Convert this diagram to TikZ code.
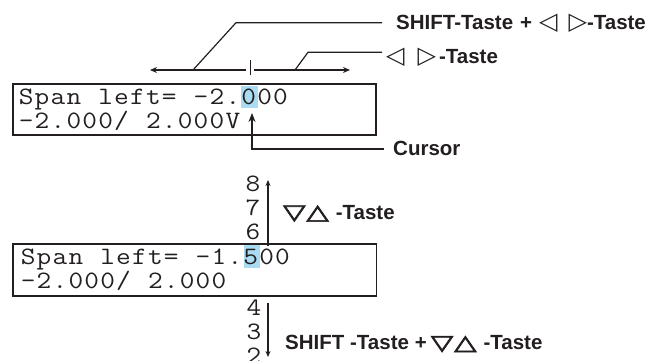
\documentclass[tikz,border=0pt]{standalone}
\usepackage{fontspec}
\usepackage{graphicx}
\setmainfont{Liberation Sans}
\newfontfamily\monof{lmmono12-regular.otf}
\newfontfamily\symf{DejaVu Sans}
\newfontfamily\symfb{DejaVu Sans}[FakeBold=3]
\usetikzlibrary{arrows.meta}
\definecolor{ink}{HTML}{231F20}
\definecolor{cursorbg}{HTML}{A9DCF2}
% display characters sit in fixed cells, like on the instrument's LCD
\newlength\lcdcellw
\setlength\lcdcellw{15.9pt}
\newcommand\lcdglyph[1]{\makebox[\lcdcellw][c]{\scalebox{1.14}[1]{#1}}}
\newcommand\lcdtext[1]{\lcdcell#1\relax}
\def\lcdcell#1{\ifx\relax#1\else\lcdglyph{#1}\expandafter\lcdcell\fi}
% key symbols
\newcommand\keyL{{\symf\fontsize{24}{24}\selectfont ◁}}
\newcommand\keyR{{\symf\fontsize{24}{24}\selectfont ▷}}
\newcommand\keyD{{\symfb\fontsize{29}{29}\selectfont\scalebox{1}[0.72]{▽}}}
\newcommand\keyU{{\symfb\fontsize{29}{29}\selectfont\scalebox{1}[0.72]{△}}}
\tikzset{
  lcd/.style={draw=ink, line width=1.8pt, rectangle, inner sep=0pt, anchor=north west},
  mono/.style={inner sep=0pt, text=ink, font=\monof\fontsize{25}{24}\selectfont},
  digit/.style={mono, anchor=base east},
  lbl/.style={inner sep=0pt, text=ink, font=\bfseries\fontsize{20.5}{24}\selectfont, anchor=base west},
  lead/.style={draw=ink, line width=1.2pt},
  hl/.style={fill=cursorbg, draw=none},
  tipS/.style={-{Stealth[length=7pt,width=6pt]}},
  tipV/.style={-{Stealth[length=6pt,width=5pt]}},
}
\begin{document}
\begin{tikzpicture}[x=1pt, y=-1pt]
\useasboundingbox (0,0) rectangle (659,360);
\clip (0,0) rectangle (659,360);

% upper display: cursor highlight, frame, text
\fill[hl] (241.3,86) rectangle (258,108);
\node[lcd, minimum width=363pt, minimum height=51pt] (box1) at (12,83) {};
\node[mono, anchor=base west] (b1a) at (18,104) {\lcdtext{Span~left=~–2.000}};
\node[mono, anchor=base west] (b1b) at (18,128) {\lcdtext{–2.000/~2.000V}};

% left/right movement arrows with the separator tick
\coordinate (tick) at (250.7,70);
\coordinate (aL) at (150,70);
\coordinate (aR) at (350,70);
\draw[lead, tipS] ([xshift=-4.5pt]tick) -- (aL);
\draw[lead, tipS] ([xshift=3.5pt]tick) -- (aR);
\draw[lead] ([yshift=-5pt]tick) -- ([yshift=10pt]tick);

% labels with their leaders
\node[lbl] (shiftlr) at (396,29.5)
  {SHIFT-Taste\hspace{7pt}+\hspace{7pt}\keyL\hspace{11pt}\keyR-Taste};
\node[lbl] (lr) at (386,63) {\keyL\hspace{13pt}\keyR\hspace{3pt}-Taste};
\coordinate (l1a) at (193,70);
\coordinate (l1b) at (236,22.7);
\coordinate (l1c) at (382,22.7);
\draw[lead] (l1a) -- (l1b) -- (l1c);
\coordinate (l2a) at (295,70);
\coordinate (l2b) at (308,52.3);
\coordinate (l2c) at (382,52.3);
\draw[lead] (l2a) -- (l2b) -- (l2c);

% cursor pointer
\node[lbl] (cur) at (393,155) {Cursor};
\coordinate (c1) at (384,149);
\coordinate (c2) at (252,149);
\coordinate (c3) at (252,113);
\draw[lead, -{Stealth[length=9pt,width=7pt]}] (c1) -- (c2) -- (c3);

% up key: digit increases
\node[digit] (d8) at (261,191) {\lcdglyph{8}};
\node[digit] (d7) at (261,215) {\lcdglyph{7}};
\node[digit] (d6) at (261,239) {\lcdglyph{6}};
\coordinate (u1) at (268,246);
\coordinate (u2) at (268,180);
\draw[lead, tipV] (u1) -- (u2);
\node[lbl] (ud) at (283,219) {\keyD\hspace{1pt}\keyU\hspace{7pt}-Taste};

% lower display
\fill[hl] (243.5,245) rectangle (260.3,268);
\node[lcd, minimum width=363.5pt, minimum height=52pt] (box2) at (12,243) {};
\node[mono, anchor=base west] (b2a) at (20,264) {\lcdtext{Span~left=~–1.500}};
\node[mono, anchor=base west] (b2b) at (20,288) {\lcdtext{–2.000/~2.000}};

% shift + down key: digit decreases
\node[digit] (d4) at (262,315) {\lcdglyph{4}};
\node[digit] (d3) at (262,339) {\lcdglyph{3}};
\node[digit] (d2) at (262,363) {\lcdglyph{2}};
\coordinate (w1) at (268,302.7);
\coordinate (w2) at (268,357);
\draw[lead, tipV] (w1) -- (w2);
\node[lbl] (sud) at (285,349.5)
  {SHIFT -Taste\hspace{6pt}+\hspace{4pt}\keyD\hspace{1pt}\keyU\hspace{7pt}-Taste};
\end{tikzpicture}
\end{document}
